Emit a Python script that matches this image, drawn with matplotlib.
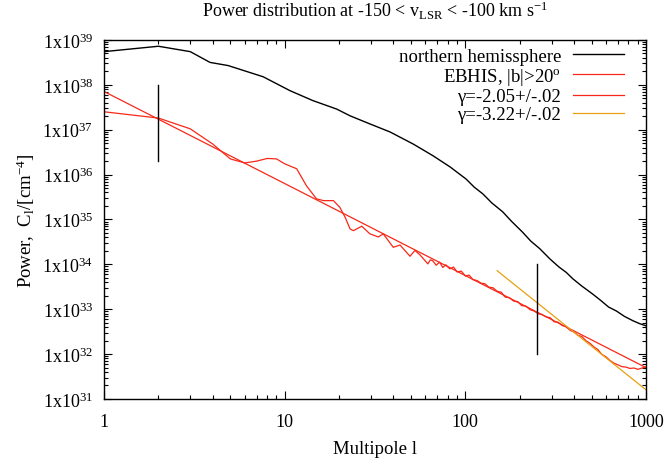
import numpy as np
import matplotlib
matplotlib.use("Agg")
import matplotlib.pyplot as plt
from matplotlib.ticker import FuncFormatter, LogLocator, NullFormatter

plt.rcParams['font.family'] = ['Liberation Serif', 'DejaVu Serif']
plt.rcParams['mathtext.default'] = 'regular'

# northern hemisphere spectrum (log10 power)
l_north = [1, 2, 3, 3.86, 4.86, 7.6, 10.7, 14.3, 19.4, 23, 29.6, 38.3, 51.5, 66.2, 82.4,
           101, 112, 125, 140, 161, 180, 207, 230, 258, 294, 330, 362, 393, 440, 506,
           560, 620, 686, 760, 850, 920, 1000]
logp_north = [38.74, 38.86, 38.74, 38.50, 38.43, 38.18, 37.87, 37.65, 37.46, 37.31, 37.13,
              36.95, 36.68, 36.42, 36.17, 35.90, 35.72, 35.57, 35.37, 35.17, 34.96, 34.72,
              34.52, 34.35, 34.12, 33.94, 33.82, 33.68, 33.52, 33.34, 33.20, 33.05, 32.96,
              32.84, 32.74, 32.68, 32.63]

# EBHIS |b|>20 spectrum (log10 power)
l_ebhis = [1, 2, 3, 4, 5, 6, 7, 8, 9, 10, 11.65, 13.2, 15, 16.4, 18.6, 20.2, 21.6, 23, 24,
           26.7, 29.6, 33, 35.1, 39.9, 43.5, 49.4, 52.6, 56.1, 62, 64, 66, 69, 72, 75, 78,
           82, 86, 90, 95, 100, 105, 110, 116, 122, 128, 135, 142, 150, 158, 166, 175, 185,
           195, 205, 216, 228, 240, 253, 266, 280, 295, 310, 326, 343, 361, 380, 400, 420,
           442, 465, 490, 515, 542, 570, 600, 631, 664, 700, 736, 775, 815, 858, 903, 950,
           1000]
logp_ebhis = [37.40, 37.26, 37.02, 36.68, 36.35, 36.26, 36.30, 36.36, 36.35, 36.24, 36.13,
              35.75, 35.46, 35.42, 35.42, 35.27, 35.05, 34.79, 34.75, 34.85, 34.68, 34.61,
              34.68, 34.38, 34.43, 34.18, 34.31, 34.21, 34.01, 34.10, 34.08, 33.98, 34.05,
              33.93, 33.99, 33.90, 33.94, 33.83, 33.85, 33.74, 33.76, 33.66, 33.64, 33.58,
              33.57, 33.49, 33.48, 33.40, 33.38, 33.27, 33.26, 33.18, 33.17, 33.08, 33.07,
              32.99, 32.96, 32.90, 32.88, 32.83, 32.81, 32.72, 32.71, 32.64, 32.61, 32.53,
              32.49, 32.42, 32.39, 32.30, 32.24, 32.16, 32.10, 31.99, 31.94, 31.86, 31.80,
              31.76, 31.72, 31.71, 31.68, 31.69, 31.66, 31.69, 31.71]

# power-law fits (end points)
l_fit1 = [1, 1000]
p_fit1 = [7.1e37, 5.0e31]
l_fit2 = [150, 1000]
p_fit2 = [7.2e33, 1.6e31]

# vertical markers
l_marks = [2, 250]
p_lo = [2e36, 1e32]
p_hi = [1e38, 1e34]

labels = ["northern hemissphere", "EBHIS, |b|>20$^{o}$",
          "\u03b3=-2.05+/-.02", "\u03b3=-3.22+/-.02"]

fig = plt.figure(figsize=(6.67, 4.64), dpi=100)
ax = fig.add_axes([0.156, 0.138, 0.8125, 0.7737])

ax.plot(l_north, 10 ** np.array(logp_north), color='black', lw=1.0, label=labels[0])
ax.plot(l_ebhis, 10 ** np.array(logp_ebhis), color='#f82818', lw=0.9, label=labels[1])
ax.plot(l_fit1, p_fit1, color='#f82818', lw=0.9, label=labels[2])
ax.plot(l_fit2, p_fit2, color='#e8a010', lw=0.9, label=labels[3])
for i in range(len(l_marks)):
    ax.plot([l_marks[i], l_marks[i]], [p_lo[i], p_hi[i]], color='black', lw=1.0)

ax.set_xscale('log')
ax.set_yscale('log')
ax.set_xlim(1, 1000)
ax.set_ylim(1e31, 1e39)

ax.yaxis.set_major_locator(LogLocator(base=10, numticks=20))
ax.yaxis.set_minor_locator(LogLocator(base=10, subs=np.arange(2, 10), numticks=20))
ax.yaxis.set_major_formatter(FuncFormatter(lambda v, p: '1x10$^{%d}$' % round(np.log10(v))))
ax.yaxis.set_minor_formatter(NullFormatter())
ax.xaxis.set_major_formatter(FuncFormatter(lambda v, p: '%g' % v))
ax.xaxis.set_minor_formatter(NullFormatter())

ax.tick_params(which='both', direction='in', top=True, right=True, labelsize=13, width=0.8)
ax.tick_params(which='major', length=6)
ax.tick_params(which='minor', length=3)
ax.tick_params(axis='y', pad=8)
ax.tick_params(axis='x', pad=10)
for s in ax.spines.values():
    s.set_linewidth(1.0)

ax.set_xlabel("Multipole l", fontsize=13.5, labelpad=7)
ax.set_ylabel("Power,  C$_{l}$/[cm$^{-4}$]", fontsize=13.5, labelpad=4)
ax.set_title("Power distribution at -150 < v$_{LSR}$ < -100 km s$^{-1}$", fontsize=13, pad=17)

ax.legend(loc='upper right', bbox_to_anchor=(0.983, 1.015), frameon=False, markerfirst=False,
          fontsize=13.5, handlelength=2.7, handletextpad=0.64, labelspacing=0.06,
          borderaxespad=0.3)

fig.savefig("out.png", dpi=100)
